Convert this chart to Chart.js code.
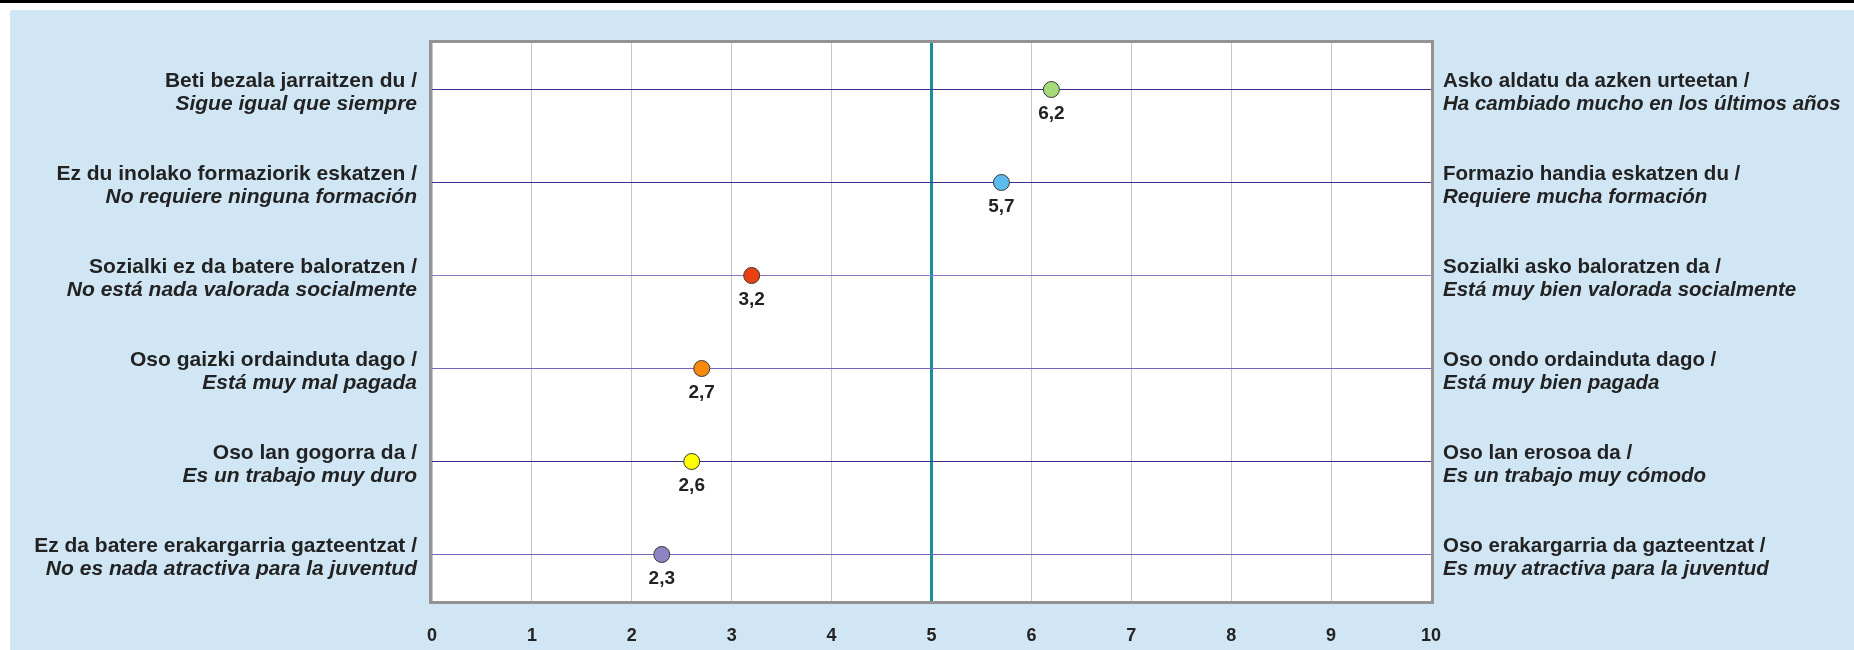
<!DOCTYPE html>
<html>
<head>
<meta charset="utf-8">
<script src="https://cdn.jsdelivr.net/npm/chart.js@4"></script>
<style>
  html, body { margin: 0; padding: 0; background: #fff; }
  canvas { display: block; }
</style>
</head>
<body>
<canvas id="chart" width="1854" height="650"></canvas>
<script>
// row labels (top to bottom)
const leftBasque = [
  'Beti bezala jarraitzen du /',
  'Ez du inolako formaziorik eskatzen /',
  'Sozialki ez da batere baloratzen /',
  'Oso gaizki ordainduta dago /',
  'Oso lan gogorra da /',
  'Ez da batere erakargarria gazteentzat /'
];
const leftSpanish = [
  'Sigue igual que siempre',
  'No requiere ninguna formación',
  'No está nada valorada socialmente',
  'Está muy mal pagada',
  'Es un trabajo muy duro',
  'No es nada atractiva para la juventud'
];
const rightBasque = [
  'Asko aldatu da azken urteetan /',
  'Formazio handia eskatzen du /',
  'Sozialki asko baloratzen da /',
  'Oso ondo ordainduta dago /',
  'Oso lan erosoa da /',
  'Oso erakargarria da gazteentzat /'
];
const rightSpanish = [
  'Ha cambiado mucho en los últimos años',
  'Requiere mucha formación',
  'Está muy bien valorada socialmente',
  'Está muy bien pagada',
  'Es un trabajo muy cómodo',
  'Es muy atractiva para la juventud'
];

const scores = [6.2, 5.7, 3.2, 2.7, 2.6, 2.3];
const scoreLabels = ['6,2', '5,7', '3,2', '2,7', '2,6', '2,3'];
const xTicks = [0, 1, 2, 3, 4, 5, 6, 7, 8, 9, 10];

const pointColors = ['#a6da78', '#5cbcf0', '#e9410f', '#f68a0c', '#ffff00', '#8d84c2'];
const rowLineColors = ['#3b2a8e', '#3b2a8e', '#8f76c6', '#7a62bc', '#3b2a8e', '#7a62bc'];

const TEXT = '#222222';
const FONT = '"Liberation Sans", Arial, sans-serif';

const backdrop = {
  id: 'backdrop',
  beforeDraw(chart) {
    const { ctx, width, height } = chart;
    ctx.save();
    ctx.fillStyle = '#ffffff';
    ctx.fillRect(0, 0, width, height);
    ctx.fillStyle = '#000000';
    ctx.fillRect(0, 0, width, 3);
    ctx.fillStyle = '#d1e6f4';
    ctx.fillRect(10, 10, width - 10, height - 10);
    // plot area
    const a = chart.chartArea;
    ctx.fillStyle = '#ffffff';
    ctx.fillRect(a.left, a.top, a.right - a.left, a.bottom - a.top);
    ctx.restore();
  }
};

const decorations = {
  id: 'decorations',
  afterDraw(chart) {
    const { ctx } = chart;
    const a = chart.chartArea;
    const y = chart.scales.y;
    ctx.save();

    // frame
    ctx.strokeStyle = '#939393';
    ctx.lineWidth = 3;
    ctx.strokeRect(a.left - 1.5, a.top - 1.5, a.right - a.left + 3, a.bottom - a.top + 3);

    // side labels
    ctx.fillStyle = TEXT;
    ctx.textBaseline = 'alphabetic';
    leftBasque.forEach((t, i) => {
      const py = y.getPixelForValue(i);
      ctx.textAlign = 'right';
      ctx.font = 'bold 21px ' + FONT;
      ctx.fillText(t, a.left - 15, py - 3);
      ctx.font = 'italic bold 21px ' + FONT;
      ctx.fillText(leftSpanish[i], a.left - 15, py + 20);

      ctx.textAlign = 'left';
      ctx.font = 'bold 20.5px ' + FONT;
      ctx.fillText(rightBasque[i], a.right + 12, py - 3);
      ctx.font = 'italic bold 20.5px ' + FONT;
      ctx.fillText(rightSpanish[i], a.right + 12, py + 20);
    });

    // value labels under each point
    const meta = chart.getDatasetMeta(0);
    ctx.textAlign = 'center';
    ctx.textBaseline = 'middle';
    ctx.font = 'bold 19px ' + FONT;
    meta.data.forEach((pt, i) => {
      ctx.fillText(scoreLabels[i], pt.x, pt.y + 24);
    });
    ctx.restore();
  }
};

new Chart(document.getElementById('chart'), {
  type: 'scatter',
  data: {
    datasets: [{
      data: scores.map((v, i) => ({ x: v, y: i })),
      pointRadius: 8,
      pointHoverRadius: 8,
      pointBackgroundColor: pointColors,
      pointBorderColor: '#3a3a3a',
      pointBorderWidth: 1
    }]
  },
  options: {
    responsive: false,
    animation: false,
    layout: { padding: { left: 432, right: 423, top: 43, bottom: 4 } },
    plugins: {
      legend: { display: false },
      tooltip: { enabled: false }
    },
    scales: {
      x: {
        type: 'linear',
        min: 0,
        max: 10,
        afterBuildTicks: (axis) => { axis.ticks = xTicks.map((v) => ({ value: v })); },
        afterFit: (axis) => { axis.height = 45; },
        border: { display: false },
        grid: {
          drawTicks: false,
          color: (c) => c.tick && c.tick.value === 5 ? '#1a8d9f' : '#c6c6c6',
          lineWidth: (c) => c.tick && c.tick.value === 5 ? 3 : 1
        },
        ticks: {
          padding: 24,
          maxRotation: 0,
          color: TEXT,
          font: { family: FONT, size: 18, weight: 'bold' }
        }
      },
      y: {
        type: 'linear',
        min: -0.5,
        max: 5.5,
        reverse: true,
        afterBuildTicks: (axis) => { axis.ticks = scores.map((_, i) => ({ value: i })); },
        afterFit: (axis) => { axis.width = 0; },
        border: { display: false },
        grid: {
          drawTicks: false,
          color: (c) => rowLineColors[c.index] || '#3b2a8e',
          lineWidth: 1
        },
        ticks: { display: false }
      }
    }
  },
  plugins: [backdrop, decorations]
});
</script>
</body>
</html>
